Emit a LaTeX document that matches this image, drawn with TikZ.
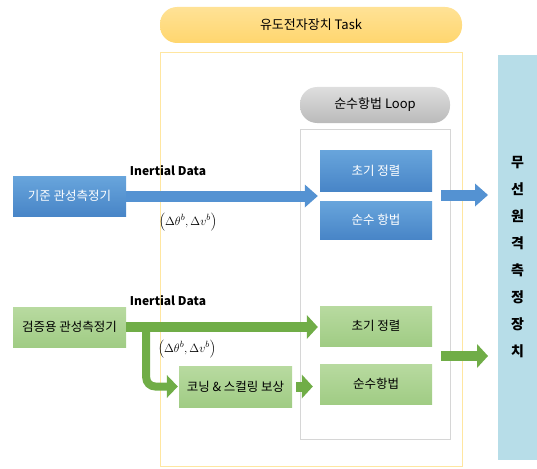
\documentclass[tikz,border=0pt]{standalone}
\usepackage{fontspec}
\setmainfont{Noto Sans CJK KR}
\usetikzlibrary{arrows.meta}
\definecolor{blueTop}{RGB}{104,165,220}
\definecolor{blueBot}{RGB}{72,133,199}
\definecolor{arrowBlue}{RGB}{84,146,210}
\definecolor{greenTop}{RGB}{184,218,160}
\definecolor{greenBot}{RGB}{160,204,132}
\definecolor{arrowGreen}{RGB}{112,173,71}
\definecolor{taskTop}{RGB}{255,226,150}
\definecolor{taskBot}{RGB}{255,214,110}
\definecolor{taskLine}{RGB}{255,230,160}
\definecolor{loopTop}{RGB}{222,222,222}
\definecolor{loopBot}{RGB}{186,186,186}
\definecolor{loopLine}{RGB}{214,214,214}
\definecolor{barBlue}{RGB}{183,221,232}
\begin{document}
\begin{tikzpicture}[x=1pt,y=1pt,
    every node/.style={inner sep=0pt},
    blueblock/.style={rectangle,top color=blueTop,bottom color=blueBot,text=white,
        minimum width=112pt,font=\fontsize{12.5}{14}\selectfont},
    greenblock/.style={rectangle,top color=greenTop,bottom color=greenBot,text=black,
        minimum width=112pt,font=\fontsize{12.5}{14}\selectfont},
    pill/.style={rectangle,rounded corners=17pt,minimum height=36pt,
        font=\fontsize{13}{15}\selectfont},
    label/.style={font=\bfseries\fontsize{12}{14}\selectfont},
    mathlabel/.style={font=\fontsize{13}{15}\selectfont},
    bluearrow/.style={draw=arrowBlue,line width=11pt,
        -{Triangle[length=13pt,width=23pt,line width=0pt]}},
    greenarrow/.style={draw=arrowGreen,line width=10pt,
        -{Triangle[length=11pt,width=24pt,line width=0pt]}},
    greenelbow/.style={draw=arrowGreen,line width=8pt,rounded corners=9pt,
        -{Triangle[length=11pt,width=23pt,line width=0pt]}}]
    \useasboundingbox (0,0) rectangle (537,-468);
    \node[draw=taskLine,line width=0.8pt,minimum width=302pt,minimum height=414pt] (taskbox) at (311,-259) {};
    \node[pill,top color=taskTop,bottom color=taskBot,minimum width=302pt] (task) at (311,-25) {유도전자장치 Task};
    \node[draw=loopLine,line width=0.6pt,minimum width=150pt,minimum height=310pt] (loopbox) at (375,-284) {};
    \node[pill,top color=loopTop,bottom color=loopBot,minimum width=150pt] (loop) at (375,-105) {순수항법 Loop};
    \node[fill=barBlue,minimum width=39pt,minimum height=405pt] (bar) at (517.5,-257.5) {};
    \node[align=center,font=\bfseries\fontsize{14}{27}\selectfont] (bartext) at (bar) {무\\선\\원\\격\\측\\정\\장\\치};
    \node[blueblock,minimum width=113pt,minimum height=40pt] (ref) at (69.5,-196) {기준 관성측정기};
    \node[blueblock,minimum height=41pt] (init1) at (376,-170.5) {초기 정렬};
    \node[blueblock,minimum height=38pt] (nav1) at (376,-220) {순수 항법};
    \node[greenblock,minimum width=113pt,minimum height=40pt] (ver) at (69.5,-327) {검증용 관성측정기};
    \node[greenblock,minimum height=40pt] (init2) at (376,-326) {초기 정렬};
    \node[greenblock,minimum height=40pt] (nav2) at (376,-384) {순수항법};
    \node[greenblock,minimum width=113pt,minimum height=41pt] (coning) at (235.5,-386.5) {코닝 \& 스컬링 보상};
    \node[label] (data1) at (168,-171) {Inertial Data};
    \node[label] (data2) at (168,-301) {Inertial Data};
    \node[mathlabel] (delta1) at (188,-222) {$\left(\Delta\theta^b,\Delta v^b\right)$};
    \node[mathlabel] (delta2) at (187,-349) {$\left(\Delta\theta^b,\Delta v^b\right)$};
    \coordinate (out1a) at (441,-195);
    \coordinate (out1b) at (488,-195);
    \coordinate (out2a) at (441,-356);
    \coordinate (out2b) at (488,-356);
    \draw[bluearrow,shorten >=2pt] (ref.east) -- (ref.east -| init1.west);
    \draw[bluearrow] (out1a) -- (out1b);
    \draw[greenelbow,shorten >=1pt] ([xshift=20pt]ver.east) |- (coning.west);
    \draw[greenarrow,shorten >=2pt] (ver.east) -- (ver.east -| init2.west);
    \draw[greenarrow,shorten <=4pt,shorten >=7pt] (coning.east) -- (coning.east -| nav2.west);
    \draw[greenarrow] (out2a) -- (out2b);
\end{tikzpicture}
\end{document}
